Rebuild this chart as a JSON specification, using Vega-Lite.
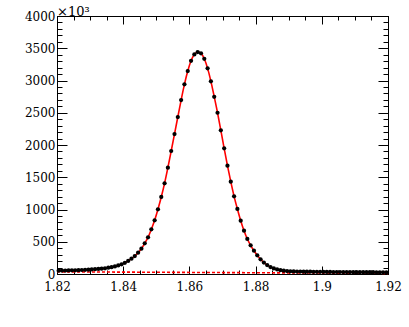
{
  "$schema": "https://vega.github.io/schema/vega-lite/v6.json",
  "width": 331,
  "height": 258,
  "autosize": {"type": "none"},
  "padding": {"left": 57, "top": 16, "right": 21, "bottom": 53},
  "background": "white",
  "title": {"text": "×10³", "anchor": "start", "frame": "group", "font": "DejaVu Serif", "fontSize": 13, "fontWeight": "normal", "baseline": "bottom", "offset": 0, "dy": 22, "color": "black"},
  "config": {
    "font": "DejaVu Serif",
    "view": {"stroke": "black", "strokeWidth": 1},
    "axis": {"domain": false, "grid": false, "labelFont": "DejaVu Serif", "labelFontSize": 12, "labelColor": "black", "tickColor": "black", "tickWidth": 1, "labelFlush": false, "labelOverlap": false, "labelBound": false}
  },
  "datasets": {
    "pts": [
      {"m": 1.8205, "n": 52}, {"m": 1.8215, "n": 53}, {"m": 1.8225, "n": 54}, {"m": 1.8235, "n": 55}, {"m": 1.8245, "n": 57},
      {"m": 1.8255, "n": 58}, {"m": 1.8265, "n": 60}, {"m": 1.8275, "n": 62}, {"m": 1.8285, "n": 64}, {"m": 1.8295, "n": 67},
      {"m": 1.8305, "n": 70}, {"m": 1.8315, "n": 74}, {"m": 1.8325, "n": 78}, {"m": 1.8335, "n": 83}, {"m": 1.8345, "n": 89},
      {"m": 1.8355, "n": 97}, {"m": 1.8365, "n": 106}, {"m": 1.8375, "n": 118}, {"m": 1.8385, "n": 133}, {"m": 1.8395, "n": 151},
      {"m": 1.8405, "n": 174}, {"m": 1.8415, "n": 203}, {"m": 1.8425, "n": 237}, {"m": 1.8435, "n": 279}, {"m": 1.8445, "n": 330},
      {"m": 1.8455, "n": 392}, {"m": 1.8465, "n": 476}, {"m": 1.8475, "n": 569}, {"m": 1.8485, "n": 693}, {"m": 1.8495, "n": 832},
      {"m": 1.8505, "n": 1003}, {"m": 1.8515, "n": 1194}, {"m": 1.8525, "n": 1406}, {"m": 1.8535, "n": 1648}, {"m": 1.8545, "n": 1907},
      {"m": 1.8555, "n": 2170}, {"m": 1.8565, "n": 2434}, {"m": 1.8575, "n": 2697}, {"m": 1.8585, "n": 2940}, {"m": 1.8595, "n": 3147},
      {"m": 1.8605, "n": 3306}, {"m": 1.8615, "n": 3405}, {"m": 1.8625, "n": 3441}, {"m": 1.8635, "n": 3421}, {"m": 1.8645, "n": 3337},
      {"m": 1.8655, "n": 3188}, {"m": 1.8665, "n": 2987}, {"m": 1.8675, "n": 2748}, {"m": 1.8685, "n": 2500}, {"m": 1.8695, "n": 2227},
      {"m": 1.8705, "n": 1948}, {"m": 1.8715, "n": 1679}, {"m": 1.8725, "n": 1431}, {"m": 1.8735, "n": 1204}, {"m": 1.8745, "n": 1008},
      {"m": 1.8755, "n": 826}, {"m": 1.8765, "n": 671}, {"m": 1.8775, "n": 543}, {"m": 1.8785, "n": 445}, {"m": 1.8795, "n": 361},
      {"m": 1.8805, "n": 290}, {"m": 1.8815, "n": 228}, {"m": 1.8825, "n": 178}, {"m": 1.8835, "n": 138}, {"m": 1.8845, "n": 108},
      {"m": 1.8855, "n": 86}, {"m": 1.8865, "n": 70}, {"m": 1.8875, "n": 59}, {"m": 1.8885, "n": 51}, {"m": 1.8895, "n": 46},
      {"m": 1.8905, "n": 42}, {"m": 1.8915, "n": 40}, {"m": 1.8925, "n": 38}, {"m": 1.8935, "n": 37}, {"m": 1.8945, "n": 36},
      {"m": 1.8955, "n": 35}, {"m": 1.8965, "n": 35}, {"m": 1.8975, "n": 34}, {"m": 1.8985, "n": 34}, {"m": 1.8995, "n": 33},
      {"m": 1.9005, "n": 33}, {"m": 1.9015, "n": 32}, {"m": 1.9025, "n": 32}, {"m": 1.9035, "n": 31}, {"m": 1.9045, "n": 31},
      {"m": 1.9055, "n": 31}, {"m": 1.9065, "n": 30}, {"m": 1.9075, "n": 30}, {"m": 1.9085, "n": 30}, {"m": 1.9095, "n": 29},
      {"m": 1.9105, "n": 29}, {"m": 1.9115, "n": 29}, {"m": 1.9125, "n": 28}, {"m": 1.9135, "n": 28}, {"m": 1.9145, "n": 28},
      {"m": 1.9155, "n": 28}, {"m": 1.9165, "n": 27}, {"m": 1.9175, "n": 27}, {"m": 1.9185, "n": 27}, {"m": 1.9195, "n": 26}
    ],
    "bkg": [
      {"m": 1.82, "b": 34},
      {"m": 1.92, "b": 10}
    ]
  },
  "resolve": {"axis": {"x": "independent", "y": "independent"}},
  "layer": [
    {
      "data": {"name": "pts"},
      "mark": {"type": "line", "color": "#ff0000", "strokeWidth": 1.6, "interpolate": "monotone"},
      "encoding": {
        "x": {"field": "m", "type": "quantitative", "title": null,
              "scale": {"domain": [1.82, 1.92], "nice": false, "zero": false},
              "axis": {"orient": "bottom", "labels": false, "tickSize": -4,
                       "values": [1.82, 1.825, 1.83, 1.835, 1.84, 1.845, 1.85, 1.855, 1.86, 1.865, 1.87, 1.875, 1.88, 1.885, 1.89, 1.895, 1.9, 1.905, 1.91, 1.915, 1.92]}},
        "y": {"field": "n", "type": "quantitative", "title": null,
              "scale": {"domain": [0, 4000], "nice": false, "zero": true},
              "axis": {"orient": "left", "labels": false, "tickSize": -5,
                       "values": [0, 100, 200, 300, 400, 500, 600, 700, 800, 900, 1000, 1100, 1200, 1300, 1400, 1500, 1600, 1700, 1800, 1900, 2000, 2100, 2200, 2300, 2400, 2500, 2600, 2700, 2800, 2900, 3000, 3100, 3200, 3300, 3400, 3500, 3600, 3700, 3800, 3900, 4000]}}
      }
    },
    {
      "data": {"name": "bkg"},
      "mark": {"type": "line", "color": "#ff0000", "strokeWidth": 1.6, "strokeDash": [3, 2]},
      "encoding": {
        "x": {"field": "m", "type": "quantitative", "title": null,
              "axis": {"orient": "top", "labels": false, "tickSize": -8,
                       "values": [1.82, 1.84, 1.86, 1.88, 1.9, 1.92]}},
        "y": {"field": "b", "type": "quantitative", "title": null,
              "axis": {"orient": "right", "labels": false, "tickSize": -10,
                       "values": [0, 500, 1000, 1500, 2000, 2500, 3000, 3500, 4000]}}
      }
    },
    {
      "data": {"name": "pts"},
      "mark": {"type": "point", "filled": true, "color": "black", "opacity": 0, "size": 4},
      "encoding": {
        "x": {"field": "m", "type": "quantitative", "title": null,
              "axis": {"orient": "top", "labels": false, "tickSize": -4,
                       "values": [1.82, 1.825, 1.83, 1.835, 1.84, 1.845, 1.85, 1.855, 1.86, 1.865, 1.87, 1.875, 1.88, 1.885, 1.89, 1.895, 1.9, 1.905, 1.91, 1.915, 1.92]}},
        "y": {"field": "n", "type": "quantitative", "title": null,
              "axis": {"orient": "right", "labels": false, "tickSize": -5,
                       "values": [0, 100, 200, 300, 400, 500, 600, 700, 800, 900, 1000, 1100, 1200, 1300, 1400, 1500, 1600, 1700, 1800, 1900, 2000, 2100, 2200, 2300, 2400, 2500, 2600, 2700, 2800, 2900, 3000, 3100, 3200, 3300, 3400, 3500, 3600, 3700, 3800, 3900, 4000]}}
      }
    },
    {
      "data": {"name": "pts"},
      "mark": {"type": "circle", "color": "black", "opacity": 1, "size": 18},
      "encoding": {
        "x": {"field": "m", "type": "quantitative", "title": null,
              "axis": {"orient": "bottom", "labels": true, "tickSize": -8, "labelPadding": 15, "format": "~g",
                       "values": [1.82, 1.84, 1.86, 1.88, 1.9, 1.92]}},
        "y": {"field": "n", "type": "quantitative", "title": null,
              "axis": {"orient": "left", "labels": true, "tickSize": -10, "labelPadding": 12, "format": "d",
                       "values": [0, 500, 1000, 1500, 2000, 2500, 3000, 3500, 4000]}}
      }
    }
  ]
}
